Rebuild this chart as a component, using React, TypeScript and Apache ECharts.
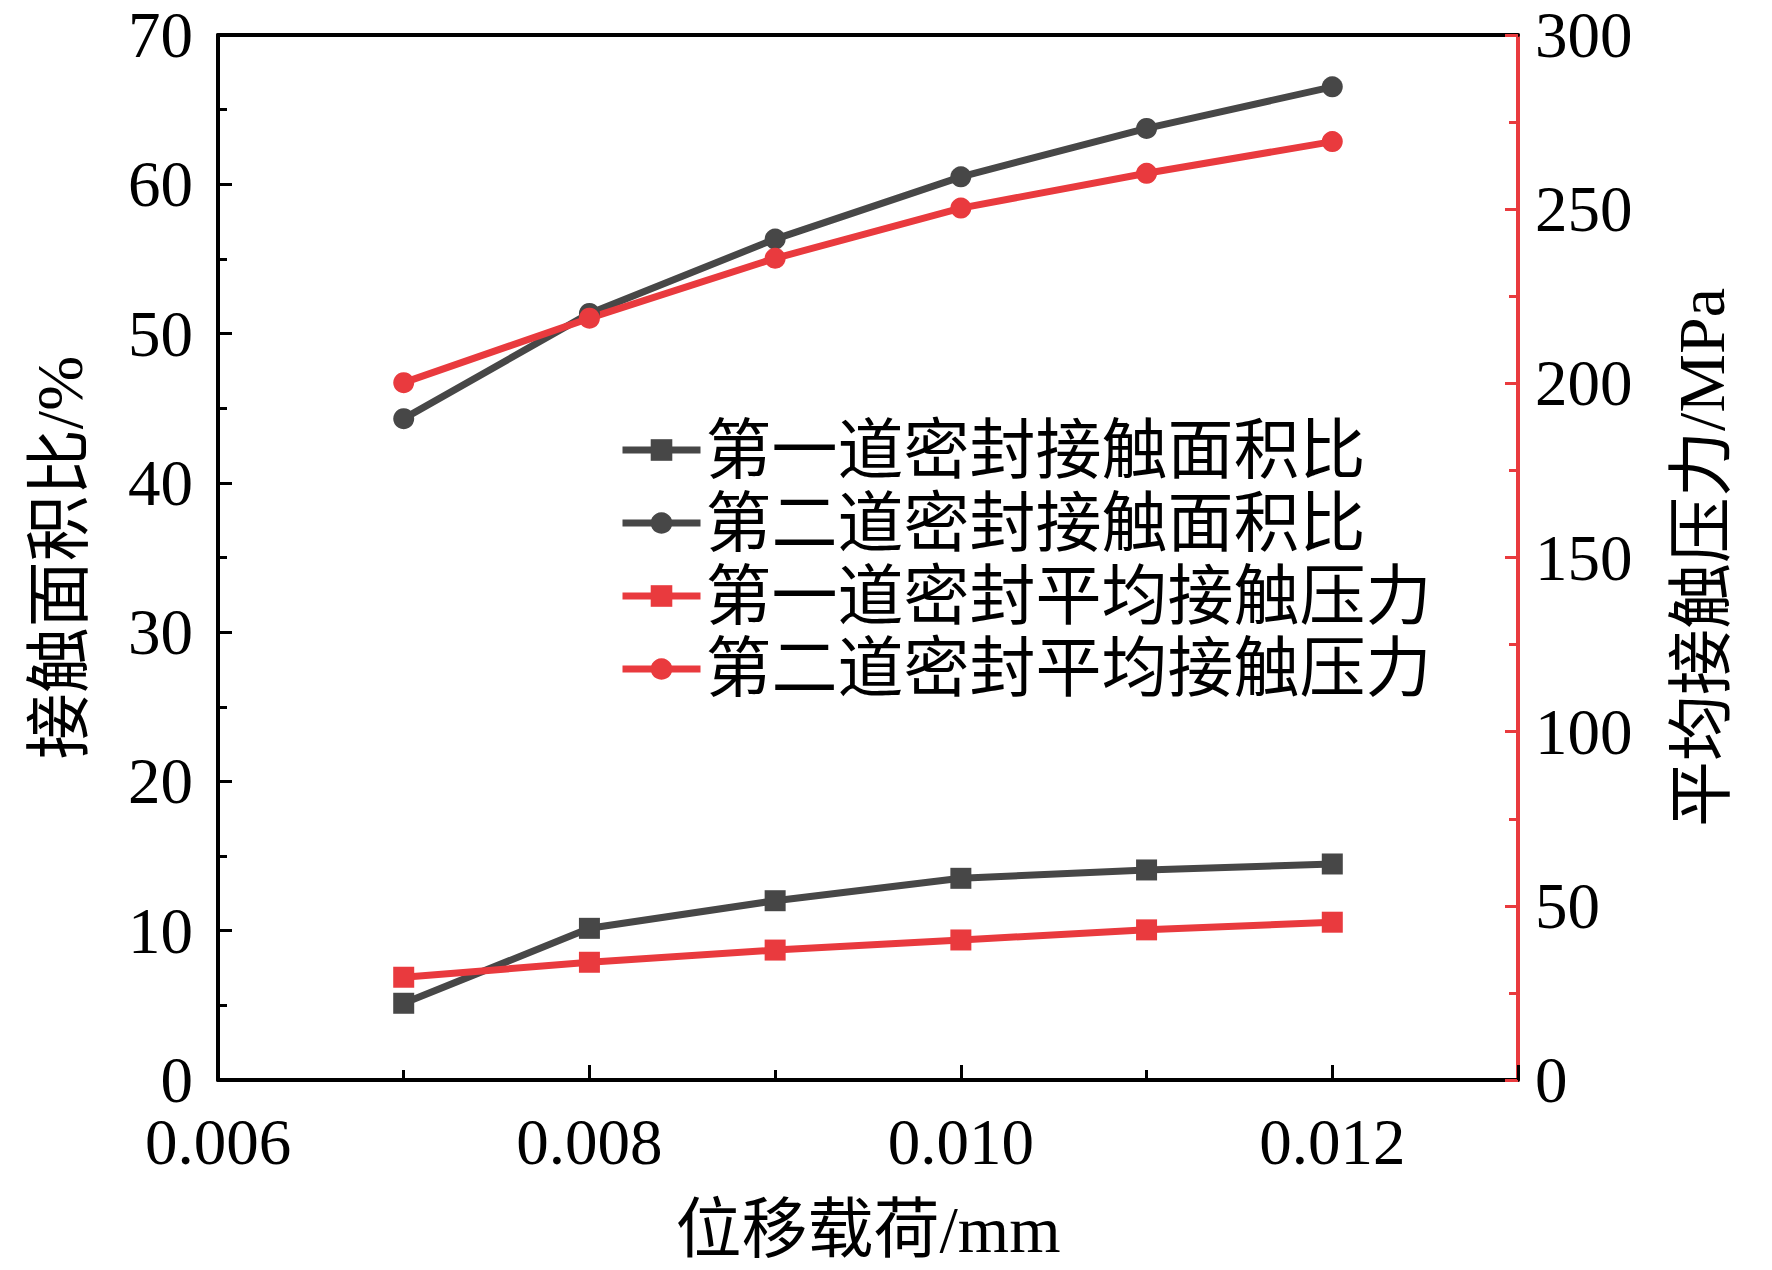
import React, { useEffect, useRef } from "react";
import * as echarts from "echarts";

const xValues = [0.007, 0.008, 0.009, 0.01, 0.011, 0.012];
const area1 = [5.14, 10.16, 12.01, 13.51, 14.07, 14.47];
const area2 = [44.3, 51.35, 56.33, 60.5, 63.74, 66.53];
const press1 = [29.5, 33.8, 37.3, 40.2, 43.1, 45.3];
const press2 = [200.2, 218.7, 235.9, 250.3, 260.3, 269.4];
const seriesNames = [
  "第一道密封接触面积比",
  "第二道密封接触面积比",
  "第一道密封平均接触压力",
  "第二道密封平均接触压力",
];
const xName = "位移载荷/mm";
const yLeftName = "接触面积比/%";
const yRightName = "平均接触压力/MPa";

const GRAY = "#474747";
const RED = "#e93a3e";
const FONT = "'Liberation Serif', 'Noto Sans CJK SC', serif";

export default function App() {
  const ref = useRef<HTMLDivElement>(null);
  useEffect(() => {
    document.body.style.margin = "0";
    const chart = echarts.init(ref.current!, null, { renderer: "svg" });
    const pairs = (ys: number[]) => xValues.map((x, i) => [x, ys[i]]);
    const mk = (name: string, ys: number[], color: string, symbol: string, yAxisIndex: number) => ({
      name,
      type: "line",
      data: pairs(ys),
      yAxisIndex,
      symbol,
      symbolSize: 21,
      lineStyle: { color, width: 7 },
      itemStyle: { color },
      z: 3,
    });
    chart.setOption({
      animation: false,
      backgroundColor: "#ffffff",
      textStyle: { fontFamily: FONT },
      grid: { left: 218, right: 254, top: 35, bottom: 190 },
      legend: {
        orient: "vertical",
        left: 614,
        top: 412,
        itemWidth: 78,
        itemHeight: 27,
        itemGap: 7,
        lineStyle: { width: 7 },
        textStyle: { fontSize: 66, color: "#000", fontFamily: FONT },
        data: seriesNames,
      },
      xAxis: [
        {
          type: "value",
          min: 0.006,
          max: 0.013,
          interval: 0.002,
          position: "bottom",
          name: xName,
          nameLocation: "middle",
          nameGap: 116,
          nameTextStyle: { fontSize: 66, color: "#000", fontFamily: FONT },
          axisLine: { onZero: false, lineStyle: { color: "#000", width: 4 } },
          axisTick: { inside: true, length: 15, lineStyle: { color: "#000", width: 3 } },
          minorTick: { show: true, splitNumber: 2, length: 10, lineStyle: { color: "#000", width: 3 } },
          axisLabel: {
            fontSize: 65,
            lineHeight: 56,
            color: "#000",
            margin: 34,
            showMaxLabel: false,
            formatter: (v: number) => v.toFixed(3),
          },
          splitLine: { show: false },
        },
        {
          type: "value",
          min: 0.006,
          max: 0.013,
          position: "top",
          axisLine: { onZero: false, lineStyle: { color: "#000", width: 4 } },
          axisTick: { show: false },
          axisLabel: { show: false },
          splitLine: { show: false },
        },
      ],
      yAxis: [
        {
          type: "value",
          min: 0,
          max: 70,
          interval: 10,
          position: "left",
          name: yLeftName,
          nameLocation: "middle",
          nameRotate: 90,
          nameGap: 126,
          nameTextStyle: { fontSize: 66, color: "#000", fontFamily: FONT },
          axisLine: { show: true, onZero: false, lineStyle: { color: "#000", width: 4 } },
          axisTick: { inside: true, length: 14, lineStyle: { color: "#000", width: 3 } },
          minorTick: { show: true, splitNumber: 2, length: 9, lineStyle: { color: "#000", width: 3 } },
          axisLabel: { fontSize: 65, lineHeight: 56, color: "#000", margin: 25 },
          splitLine: { show: false },
        },
        {
          type: "value",
          min: 0,
          max: 300,
          interval: 50,
          position: "right",
          name: yRightName,
          nameLocation: "middle",
          nameRotate: 90,
          nameGap: 150,
          nameTextStyle: { fontSize: 66, color: "#000", fontFamily: FONT },
          axisLine: { show: true, onZero: false, lineStyle: { color: RED, width: 4 } },
          axisTick: { inside: true, length: 13, lineStyle: { color: RED, width: 3 } },
          minorTick: { show: true, splitNumber: 2, length: 9, lineStyle: { color: RED, width: 3 } },
          axisLabel: { fontSize: 65, lineHeight: 56, color: "#000", margin: 17 },
          splitLine: { show: false },
        },
      ],
      series: [
        mk(seriesNames[0], area1, GRAY, "rect", 0),
        mk(seriesNames[1], area2, GRAY, "circle", 0),
        mk(seriesNames[2], press1, RED, "rect", 1),
        mk(seriesNames[3], press2, RED, "circle", 1),
      ],
    });
    return () => chart.dispose();
  }, []);
  return (
    <div
      ref={ref}
      style={{ position: "absolute", left: 0, top: 0, width: 1772, height: 1270, background: "#fff" }}
    />
  );
}
